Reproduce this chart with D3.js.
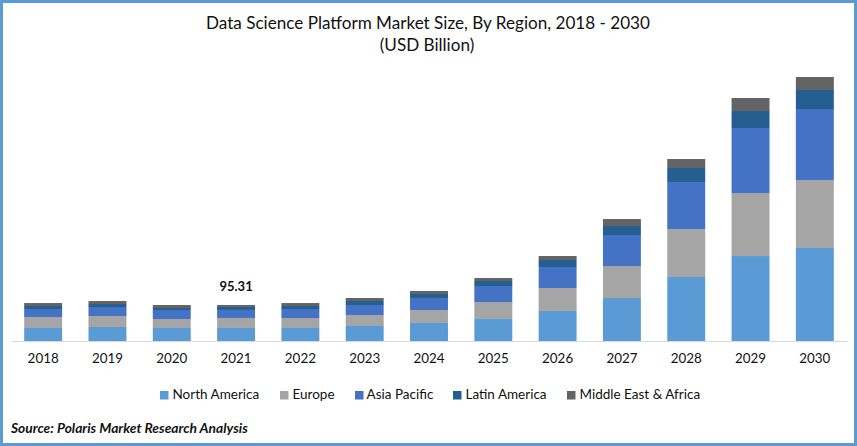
<!DOCTYPE html>
<html>
<head>
<meta charset="utf-8">
<script src="https://cdnjs.cloudflare.com/ajax/libs/d3/7.8.5/d3.min.js"></script>
<style>
  html, body { margin: 0; padding: 0; background: #fff; }
  svg { display: block; }
  text { font-family: Lato, "Open Sans", sans-serif; fill: #111; }
  .tick text { font-size: 13.4px; }
</style>
</head>
<body>
<div id="chart"></div>
<script>
// values in USD billion
const years = ["2018","2019","2020","2021","2022","2023","2024","2025","2026","2027","2028","2029","2030"];
const regions = ["North America","Europe","Asia Pacific","Latin America","Middle East & Africa"];
const colors = ["#5b9bd5","#a5a5a5","#4472c4","#255e91","#636363"];

const northAmerica = [34.4,37.1,34.4,34.5,34.4,39.7,47.7,58.2,79.4,113.8,169.4,225,246.2];
const europe       = [29.1,29.1,23.8,26.5,26.5,29.1,34.4,45,60.9,84.7,127.1,166.8,180];
const asiaPacific  = [21.2,23.8,23.8,21.2,23.8,26.5,31.8,42.4,55.6,82.1,124.4,172.1,188];
const latinAmerica = [7.9,7.9,5.3,7.9,7.9,10.6,10.6,13.2,18.5,23.8,37.1,45,50.3];
const middleEast   = [7.9,7.9,7.9,5.21,7.9,7.9,7.9,7.9,10.6,18.5,23.8,34.4,34.4];

const labelYear = "2021";
const labelText = "95.31";

const width = 857, height = 446;

const svg = d3.select("#chart").append("svg")
  .attr("width", width)
  .attr("height", height);

// frame
svg.append("rect")
  .attr("x", 1.5).attr("y", 1.5)
  .attr("width", width - 3).attr("height", height - 3)
  .attr("fill", "#fff")
  .attr("stroke", "#5b9bd5")
  .attr("stroke-width", 3);

svg.append("text").attr("x", 428).attr("y", 29)
  .attr("text-anchor", "middle").style("font-size", "17.1px")
  .text("Data Science Platform Market Size, By Region, 2018 - 2030");
svg.append("text").attr("x", 427).attr("y", 51)
  .attr("text-anchor", "middle").style("font-size", "17.1px")
  .text("(USD Billion)");

const x = d3.scaleBand().domain(years).range([11, 847]).paddingInner(0.41).paddingOuter(0.205);
const y = d3.scaleLinear().domain([0, 700]).range([341, 76.6]);

// build the stack from the series arrays
const table = years.map((year, i) => ({
  year: year,
  "North America": northAmerica[i],
  "Europe": europe[i],
  "Asia Pacific": asiaPacific[i],
  "Latin America": latinAmerica[i],
  "Middle East & Africa": middleEast[i]
}));
const stacked = d3.stack().keys(regions)(table);

svg.append("g").selectAll("g")
  .data(stacked)
  .join("g")
  .attr("fill", (d, i) => colors[i])
  .selectAll("rect")
  .data(d => d)
  .join("rect")
  .attr("x", d => x(d.data.year))
  .attr("y", d => y(d[1]))
  .attr("width", x.bandwidth())
  .attr("height", d => y(d[0]) - y(d[1]));

// x axis
const axis = svg.append("g")
  .attr("transform", "translate(0," + y(0) + ")")
  .call(d3.axisBottom(x).tickSize(0).tickPadding(12));
axis.select(".domain").attr("stroke", "#d9d9d9").attr("stroke-width", 1);
axis.selectAll(".tick text").attr("fill", "#111");

// single data label
const labelRow = table.find(d => d.year === labelYear);
svg.append("text")
  .attr("x", x(labelYear) + x.bandwidth() / 2)
  .attr("y", y(d3.sum(regions, r => labelRow[r])) - 14)
  .attr("text-anchor", "middle")
  .style("font-size", "13px")
  .style("font-weight", "bold")
  .text(labelText);

// legend
const legendX = [160, 280, 355, 453, 567];
const legend = svg.append("g").selectAll("g")
  .data(regions)
  .join("g")
  .attr("transform", (d, i) => "translate(" + legendX[i] + ",391)");
legend.append("rect").attr("width", 8.5).attr("height", 8.5).attr("fill", (d, i) => colors[i]);
legend.append("text").attr("x", d => d === "Asia Pacific" ? 11.5 : 12.5).attr("y", 8)
  .style("font-size", "13.5px").text(d => d);

svg.append("text").attr("x", 11).attr("y", 433)
  .style("font-size", "13.8px")
  .style("font-weight", "bold")
  .style("font-style", "italic")
  .text("Source: Polaris  Market Research Analysis");
</script>
</body>
</html>
